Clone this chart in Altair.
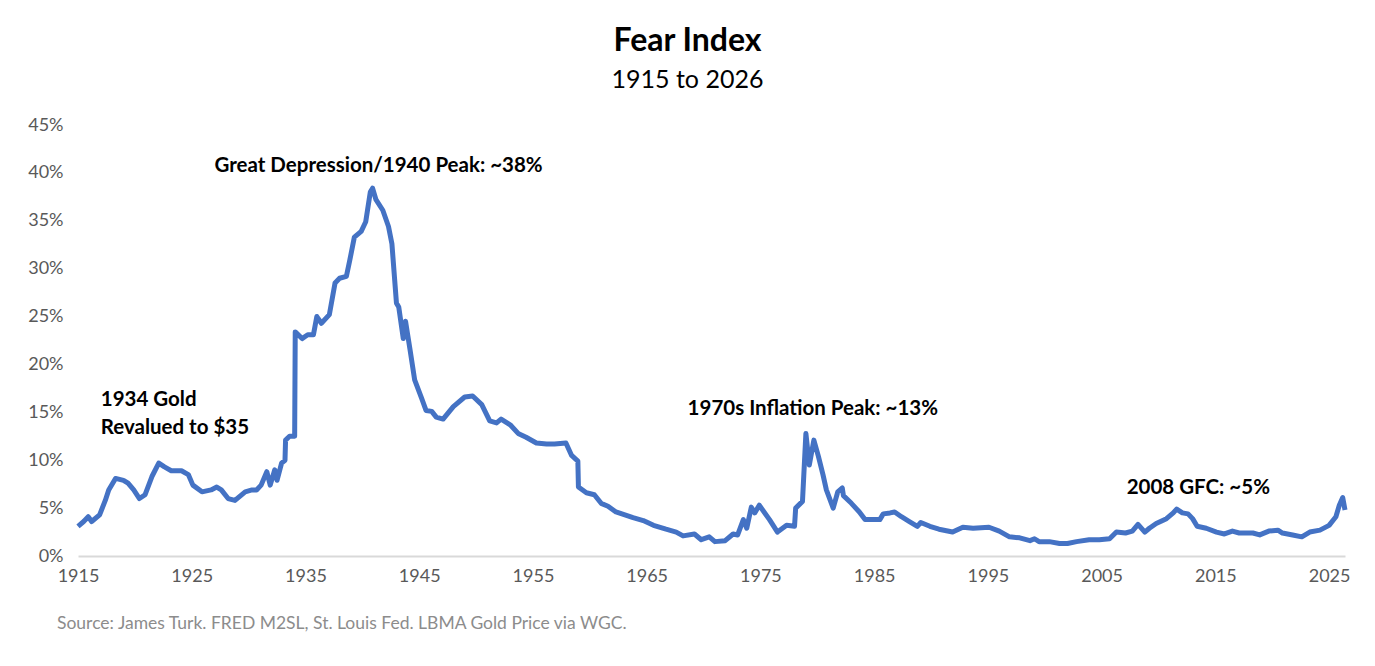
import altair as alt
import pandas as pd

years = [1915.0, 1915.5, 1915.9, 1916.2, 1916.9, 1917.4, 1917.7, 1918.3, 1919.0, 1919.4,
         1919.9, 1920.4, 1920.9, 1921.5, 1922.1, 1922.6, 1923.2, 1924.1, 1924.7, 1925.1,
         1925.9, 1926.7, 1927.2, 1927.6, 1928.2, 1928.8, 1929.7, 1930.3, 1930.7, 1931.1,
         1931.6, 1931.9, 1932.3, 1932.5, 1932.9, 1933.2, 1933.25, 1933.6, 1934.05, 1934.1,
         1934.7, 1935.2, 1935.7, 1936.0, 1936.4, 1937.1, 1937.6, 1938.0, 1938.6, 1938.9,
         1939.3, 1939.9, 1940.3, 1940.7, 1940.9, 1941.2, 1941.8, 1942.3, 1942.6, 1943.0,
         1943.2, 1943.6, 1943.8, 1944.2, 1944.6, 1945.2, 1945.6, 1946.1, 1946.5, 1947.1,
         1948.0, 1949.0, 1949.7, 1950.5, 1951.2, 1951.8, 1952.2, 1953.0, 1953.7, 1954.4,
         1955.3, 1956.2, 1956.9, 1957.9, 1958.4, 1958.95, 1959.0, 1959.7, 1960.4, 1961.0,
         1961.6, 1962.3, 1963.8, 1964.7, 1965.6, 1966.7, 1967.6, 1968.2, 1969.2, 1969.8,
         1970.5, 1971.0, 1971.9, 1972.6, 1973.0, 1973.5, 1973.8, 1974.2, 1974.5, 1974.9,
         1975.8, 1976.5, 1977.3, 1978.0, 1978.1, 1978.7, 1979.0, 1979.3, 1979.7, 1980.1,
         1980.5, 1980.8, 1981.4, 1981.8, 1982.2, 1982.3, 1983.0, 1983.7, 1984.2, 1984.9,
         1985.5, 1985.8, 1986.4, 1986.8, 1987.4, 1988.1, 1988.8, 1989.1, 1989.9, 1990.7,
         1991.9, 1992.8, 1993.7, 1995.1, 1996.0, 1996.9, 1997.8, 1998.7, 1999.1, 1999.5,
         2000.4, 2001.3, 2002.0, 2002.8, 2003.9, 2004.8, 2005.7, 2006.3, 2007.1, 2007.7,
         2008.2, 2008.8, 2009.2, 2009.8, 2010.7, 2011.3, 2011.6, 2012.1, 2012.6, 2013.0,
         2013.4, 2014.2, 2015.1, 2015.8, 2016.5, 2017.1, 2018.3, 2018.9, 2019.7, 2020.5,
         2020.9, 2021.8, 2022.6, 2023.3, 2024.2, 2025.0, 2025.6, 2025.9, 2026.2, 2026.4]

fear_pct = [3.1, 3.6, 4.1, 3.6, 4.3, 5.8, 6.9, 8.1, 7.9, 7.6,
            6.9, 6.0, 6.4, 8.3, 9.7, 9.3, 8.9, 8.9, 8.5, 7.4,
            6.7, 6.9, 7.2, 6.9, 6.0, 5.8, 6.7, 6.9, 6.9, 7.4,
            8.8, 7.4, 9.0, 7.9, 9.7, 10.0, 12.1, 12.5, 12.5, 23.4,
            22.7, 23.1, 23.1, 25.0, 24.3, 25.2, 28.5, 29.0, 29.2, 30.9,
            33.3, 33.9, 34.9, 38.0, 38.4, 37.2, 36.1, 34.4, 32.6, 26.4,
            26.0, 22.7, 24.5, 21.5, 18.4, 16.5, 15.2, 15.1, 14.5, 14.3,
            15.6, 16.6, 16.7, 15.8, 14.1, 13.9, 14.3, 13.7, 12.8, 12.4,
            11.8, 11.7, 11.7, 11.8, 10.5, 9.9, 7.2, 6.6, 6.4, 5.5,
            5.2, 4.6, 4.0, 3.7, 3.2, 2.8, 2.5, 2.1, 2.3, 1.7,
            2.0, 1.5, 1.6, 2.3, 2.2, 3.8, 2.9, 5.1, 4.5, 5.3,
            3.8, 2.5, 3.2, 3.1, 5.0, 5.7, 12.8, 9.5, 12.1, 10.4,
            8.5, 6.9, 5.0, 6.7, 7.1, 6.3, 5.5, 4.6, 3.8, 3.8,
            3.8, 4.4, 4.5, 4.6, 4.1, 3.6, 3.1, 3.5, 3.1, 2.8,
            2.5, 3.0, 2.9, 3.0, 2.6, 2.0, 1.9, 1.6, 1.8, 1.5,
            1.5, 1.3, 1.3, 1.5, 1.7, 1.7, 1.8, 2.5, 2.4, 2.6,
            3.3, 2.5, 2.9, 3.4, 3.9, 4.5, 4.9, 4.5, 4.4, 3.9,
            3.1, 2.9, 2.5, 2.3, 2.6, 2.4, 2.4, 2.2, 2.6, 2.7,
            2.4, 2.2, 2.0, 2.5, 2.7, 3.2, 4.1, 5.3, 6.1, 4.8]

x_ticks = [1915, 1925, 1935, 1945, 1955, 1965, 1975, 1985, 1995, 2005, 2015, 2025]
y_ticks = [0, 5, 10, 15, 20, 25, 30, 35, 40, 45]

note_text = ["Great Depression/1940 Peak: ~38%", "1934 Gold", "Revalued to $35",
             "1970s Inflation Peak: ~13%", "2008 GFC: ~5%"]
note_year = [1927.0, 1917.0, 1917.0, 1968.6, 2007.2]
note_pct = [40.7, 16.3, 13.4, 15.3, 7.1]

source_text = "Source: James Turk. FRED M2SL, St. Louis Fed. LBMA Gold Price via WGC."

FONT = "Lato"

df = pd.DataFrame({"year": years, "fear": fear_pct})
notes = pd.DataFrame({"year": note_year, "fear": note_pct, "label": note_text})

x_scale = alt.Scale(domain=[1915, 2026.4], nice=False, zero=False)
y_scale = alt.Scale(domain=[0, 45], nice=False)

line = alt.Chart(df).mark_line(color="#4472C4", strokeWidth=5, strokeJoin="round").encode(
    x=alt.X("year:Q", scale=x_scale, title=None,
            axis=alt.Axis(values=x_ticks, format="d", ticks=False, grid=False,
                          domainColor="#D9D9D9", domainWidth=2, labelColor="#595959",
                          labelFontSize=18, labelFont=FONT, labelPadding=11,
                          labelOverlap=False, labelFlush=False)),
    y=alt.Y("fear:Q", scale=y_scale, title=None,
            axis=alt.Axis(values=y_ticks, labelExpr="datum.value + '%'", ticks=False,
                          grid=False, domain=False, labelColor="#595959",
                          labelFontSize=18, labelFont=FONT, labelPadding=15,
                          labelFlush=False)),
)

labels = alt.Chart(notes).mark_text(align="left", baseline="middle", fontSize=20.5,
                                    fontWeight="bold", font=FONT, color="#000000").encode(
    x=alt.X("year:Q", scale=x_scale),
    y=alt.Y("fear:Q", scale=y_scale),
    text="label:N",
)

source = alt.Chart(pd.DataFrame({"t": [source_text]})).mark_text(
    align="left", baseline="middle", fontSize=17.5, font=FONT, color="#8C8C8C"
).encode(x=alt.value(-21), y=alt.value(499), text="t:N")

chart = alt.layer(line, labels, source).properties(
    width=1267, height=431,
    padding={"left": 70, "top": 117, "right": 20, "bottom": 100},
    autosize=alt.AutoSizeParams(type="none"),
    title=alt.TitleParams(text="Fear Index", subtitle="1915 to 2026", anchor="middle",
                          dx=-24, font=FONT, fontSize=32, fontWeight="bold",
                          color="#000000", subtitleFont=FONT, subtitleFontSize=25,
                          subtitleColor="#000000", subtitlePadding=10, offset=22),
).configure_view(stroke=None)

chart.save("out.html", embed_options={"renderer": "svg", "actions": False})
